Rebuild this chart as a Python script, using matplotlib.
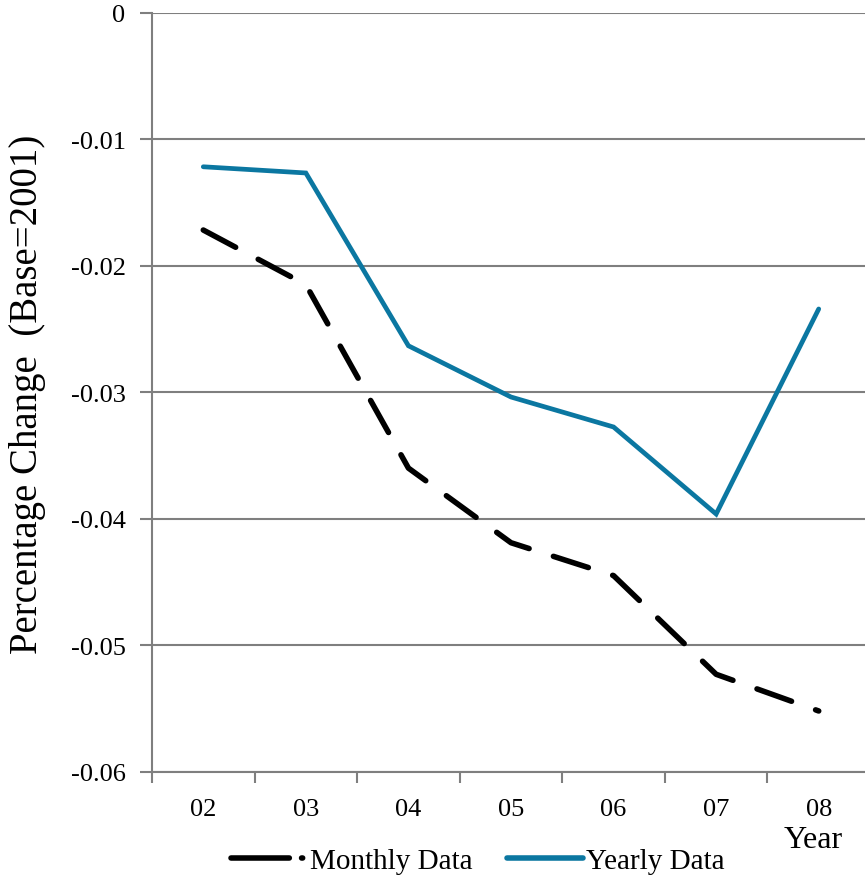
import matplotlib
matplotlib.use("Agg")
import matplotlib.pyplot as plt
from matplotlib.lines import Line2D
from matplotlib.ticker import FixedLocator, NullFormatter

plt.rcParams['font.family'] = ['Liberation Serif', 'DejaVu Serif']

years = ["02", "03", "04", "05", "06", "07", "08"]
monthly = [-0.01718, -0.0215, -0.0360, -0.0419, -0.0445, -0.0523, -0.0552]
yearly = [-0.01218, -0.01267, -0.02633, -0.03038, -0.03275, -0.03963, -0.02342]
y_ticks = [0, -0.01, -0.02, -0.03, -0.04, -0.05, -0.06]
y_tick_labels = ["0", "-0.01", "-0.02", "-0.03", "-0.04", "-0.05", "-0.06"]

W, H = 865, 879
fig = plt.figure(figsize=(W / 100, H / 100), dpi=100)
fig.patch.set_facecolor("white")

ax = fig.add_axes([152 / W, 106.3 / H, 718 / W, (865.3 - 106.3) / H])
ax.set_facecolor("white")

grey = "#7f7f7f"
blue = "#0b77a1"
x = list(range(len(years)))

ax.set_xlim(-0.5, len(years) - 0.5)
ax.set_ylim(-0.06, 0)

ax.set_yticks(y_ticks)
ax.set_yticklabels(y_tick_labels)
ax.yaxis.grid(True, color=grey, linewidth=1.5)
ax.set_axisbelow(True)

ax.set_xticks(x)
ax.set_xticklabels(years)
ax.xaxis.set_minor_locator(FixedLocator([i - 0.5 for i in x]))
ax.xaxis.set_minor_formatter(NullFormatter())
ax.tick_params(axis="x", which="major", length=0, pad=19, labelsize=19)
ax.tick_params(axis="x", which="minor", length=8, width=1.5, color=grey, direction="out")
ax.tick_params(axis="y", which="major", length=9, width=1.5, color=grey,
               direction="out", pad=10, labelsize=19)

for side in ("top", "right"):
    ax.spines[side].set_visible(False)
for side in ("left", "bottom"):
    ax.spines[side].set_color(grey)
    ax.spines[side].set_linewidth(1.5)

ax.plot(x, monthly, color="black", linewidth=4.0, linestyle=(0, (6.6, 4.6)),
        dash_capstyle="round", solid_joinstyle="round", clip_on=False)
ax.plot(x, yearly, color=blue, linewidth=3.4, solid_capstyle="round",
        solid_joinstyle="miter", clip_on=False)

fig.text(843 / W, 1 - 841 / H, "Year", ha="right", va="center", fontsize=23)
fig.text(28 / W, 1 - 394.5 / H, "Percentage Change  (Base=2001)", rotation=90,
         ha="center", va="center", fontsize=28)

# legend keys: long dash + dot for the monthly series, solid bar for the yearly one
key_m = Line2D([], [], color="black", linewidth=4.0, linestyle=(0, (10.5, 2.2, 0.2, 2.0)),
               dash_capstyle="round")
key_y = Line2D([], [], color=blue, linewidth=4.0, solid_capstyle="round")
fig.legend(handles=[key_m, key_y], labels=["Monthly Data", "Yearly Data"],
           loc="center", bbox_to_anchor=(478 / W, 1 - 862 / H),
           ncol=2, frameon=False, fontsize=21, handlelength=2.6, handletextpad=0.1,
           columnspacing=1.2, borderpad=0.1)

fig.savefig("out.png", dpi=100, facecolor="white")
